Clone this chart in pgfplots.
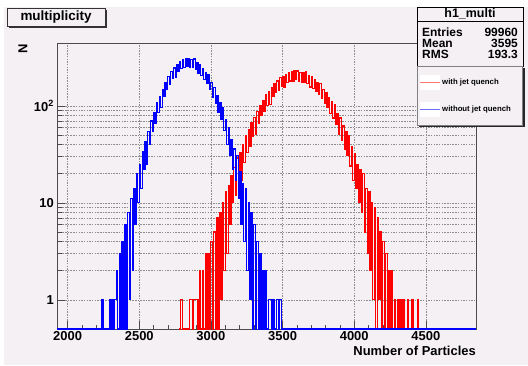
\documentclass[border=0pt]{standalone}
\usepackage{fontspec}
\setmainfont{Liberation Sans}
\usepackage{pgfplots}
\pgfplotsset{compat=1.18}
\definecolor{bgc}{RGB}{244,240,244}
\definecolor{legred}{RGB}{255,120,120}
\definecolor{legblue}{RGB}{110,110,255}
\begin{document}
\begin{tikzpicture}[x=1bp,y=1bp]
\useasboundingbox (0,0) rectangle (528,365);
\fill[white] (0,0) rectangle (528,365);
\fill[bgc] (4,0) rectangle (528,358);
\begin{axis}[
  at={(57bp,36bp)}, anchor=south west,
  scale only axis, width=419bp, height=286bp,
  xmin=1926, xmax=4850, ymode=log, ymin=0.5, ymax=446,
  xtick={2000,2500,3000,3500,4000,4500},
  xticklabels={2000,2500,3000,3500,4000,4500},
  minor x tick num=4,
  ytick={1,10,100}, yticklabels={1,10,10\textsuperscript{2}},
  xtick pos=left, ytick pos=left,
  tick align=inside,
  major tick length=8bp, minor tick length=4.5bp,
  xmajorgrids, ymajorgrids, yminorgrids,
  grid style={black!45, dash pattern=on 1.5pt off 1.2pt, line width=0.4pt},
  axis line style={black!70, line width=0.6pt},
  tick style={black!70, line width=0.5pt},
  /pgf/number format/assume math mode=true,
  tick label style={font=\bfseries\fontsize{13}{14}\selectfont},
  xticklabel style={inner sep=1pt, yshift=-1bp},
  yticklabel style={inner sep=1pt, xshift=-2bp},
  xlabel={Number of Particles},
  xlabel style={at={(rel axis cs:1,0)}, anchor=north east, yshift=-17bp, inner sep=0pt, font=\bfseries\fontsize{13}{14}\selectfont},
  ylabel={N},
  every axis y label/.style={at={(rel axis cs:0,1)}, xshift=-34bp, yshift=-1bp, rotate=90, anchor=east, inner sep=0pt, font=\bfseries\fontsize{13}{14}\selectfont},
]
% with jet quench (red)
\addplot[red, line width=1.15bp, const plot] table {
2780 0.5
2790 1
2800 0.5
2810 0.5
2820 0.5
2830 0.5
2840 0.5
2850 1
2860 1
2870 0.5
2880 1
2890 1
2900 1
2910 0.5
2920 2
2930 0.5
2940 2
2950 0.5
2960 3
2970 0.5
2980 3
2990 0.5
3000 4
3010 0.5
3020 5
3030 0.5
3040 7
3050 0.5
3060 8
3070 1
3080 10
3090 2
3100 13
3110 3
3120 15
3130 6
3140 19
3150 10
3160 23
3170 12
3180 29
3190 16
3200 33
3210 17
3220 40
3230 26
3240 49
3250 33
3260 57
3270 38
3280 68
3290 48
3300 76
3310 51
3320 87
3330 66
3340 102
3350 79
3360 114
3370 87
3380 130
3390 101
3400 140
3410 104
3420 153
3430 124
3440 170
3450 138
3460 181
3470 145
3480 196
3490 158
3500 202
3510 156
3520 210
3530 173
3540 222
3550 181
3560 226
3570 181
3580 232
3590 186
3600 229
3610 179
3620 221
3630 176
3640 220
3650 176
3660 225
3670 169
3680 206
3690 157
3700 200
3710 151
3720 185
3730 140
3740 176
3750 133
3760 172
3770 120
3780 149
3790 105
3800 138
3810 96
3820 121
3830 83
3840 110
3850 75
3860 104
3870 64
3880 84
3890 51
3900 75
3910 44
3920 62
3930 36
3940 54
3950 31
3960 50
3970 24
3980 38
3990 17
4000 32
4010 14
4020 25
4030 10
4040 22
4050 8
4060 20
4070 5
4080 14
4090 3
4100 13
4110 2
4120 10
4130 1
4140 9
4150 0.5
4160 7
4170 1
4180 5
4190 0.5
4200 4
4210 0.5
4220 3
4230 0.5
4240 2
4250 0.5
4260 2
4270 0.5
4280 1
4290 0.5
4300 1
4310 0.5
4320 1
4330 0.5
4340 1
4350 0.5
4360 0.5
4370 1
4380 0.5
4390 0.5
4400 1
4410 0.5
4420 0.5
4430 0.5
4440 1
4450 0.5
4460 0.5
};
% without jet quench (blue)
\addplot[blue, line width=1.15bp, const plot] table {
1926 0.5
2230 0.5
2240 1
2250 0.5
2260 0.5
2270 0.5
2280 0.5
2290 1
2300 0.5
2310 1
2320 0.5
2330 1
2340 2
2350 0.5
2360 3
2370 0.5
2380 4
2390 0.5
2400 6
2410 0.5
2420 8
2430 1
2440 11
2450 2
2460 14
2470 6
2480 20
2490 10
2500 25
2510 14
2520 34
2530 22
2540 43
2550 25
2560 54
2570 40
2580 70
2590 54
2600 86
2610 66
2620 108
2630 85
2640 126
2650 96
2660 148
2670 124
2680 176
2690 149
2700 200
2710 167
2720 227
2730 191
2740 246
2750 199
2760 265
2770 227
2780 287
2790 244
2800 299
2810 249
2820 311
2830 258
2840 308
2850 248
2860 301
2870 248
2880 305
2890 237
2900 279
2910 219
2920 266
2930 206
2940 242
2950 186
2960 223
2970 170
2980 210
2990 148
3000 175
3010 123
3020 154
3030 106
3040 128
3050 86
3060 109
3070 72
3080 96
3090 56
3100 73
3110 40
3120 60
3130 31
3140 45
3150 22
3160 36
3170 17
3180 31
3190 11
3200 21
3210 6
3220 16
3230 4
3240 14
3250 2
3260 10
3270 1
3280 8
3290 0.5
3300 6
3310 0.5
3320 4
3330 0.5
3340 3
3350 0.5
3360 2
3370 0.5
3380 2
3390 0.5
3400 1
3410 1
3420 0.5
3430 1
3440 0.5
3450 0.5
3460 1
3470 0.5
3480 1
3490 0.5
4850 0.5
};
\end{axis}
% title box
\fill[black!80] (9,337) rectangle (107,355);
\filldraw[fill=bgc, draw=black!80, line width=0.6pt] (7,339) rectangle (105,357);
\node[font=\bfseries\fontsize{13.5}{15}\selectfont, inner sep=0pt] at (56,348) {multiplicity};
% stats box
\filldraw[fill=bgc, draw=black, line width=0.7pt] (417,299) rectangle (523,358);
\draw[black, line width=0.6pt] (417,344) -- (523,344);
\node[font=\bfseries\fontsize{12.5}{14}\selectfont, inner sep=0pt] at (470,351) {h1\_multi};
\node[font=\bfseries\fontsize{12}{14}\selectfont, inner sep=0pt, anchor=west] at (422,333) {Entries};
\node[font=\bfseries\fontsize{12}{14}\selectfont, inner sep=0pt, anchor=east] at (518,333) {99960};
\node[font=\bfseries\fontsize{12}{14}\selectfont, inner sep=0pt, anchor=west] at (422,322) {Mean};
\node[font=\bfseries\fontsize{12}{14}\selectfont, inner sep=0pt, anchor=east] at (518,322) {3595};
\node[font=\bfseries\fontsize{12}{14}\selectfont, inner sep=0pt, anchor=west] at (422,311) {RMS};
\node[font=\bfseries\fontsize{12}{14}\selectfont, inner sep=0pt, anchor=east] at (518,311) {193.3};
% legend box
\fill[black!85] (419,238) rectangle (525,297);
\filldraw[fill=bgc, draw=black!50, line width=0.4pt] (417,240) rectangle (522,299);
\fill[white] (420,275) rectangle (440,290);
\draw[legred, line width=0.9pt] (420,282.5) -- (440,282.5);
\node[font=\bfseries\fontsize{7.8}{9}\selectfont, inner sep=0pt, anchor=west] at (442,283) {with jet quench};
\fill[white] (420,248) rectangle (440,263);
\draw[legblue, line width=0.9pt] (420,255.5) -- (440,255.5);
\node[font=\bfseries\fontsize{7.8}{9}\selectfont, inner sep=0pt, anchor=west] at (442,256) {without jet quench};
\end{tikzpicture}
\end{document}
